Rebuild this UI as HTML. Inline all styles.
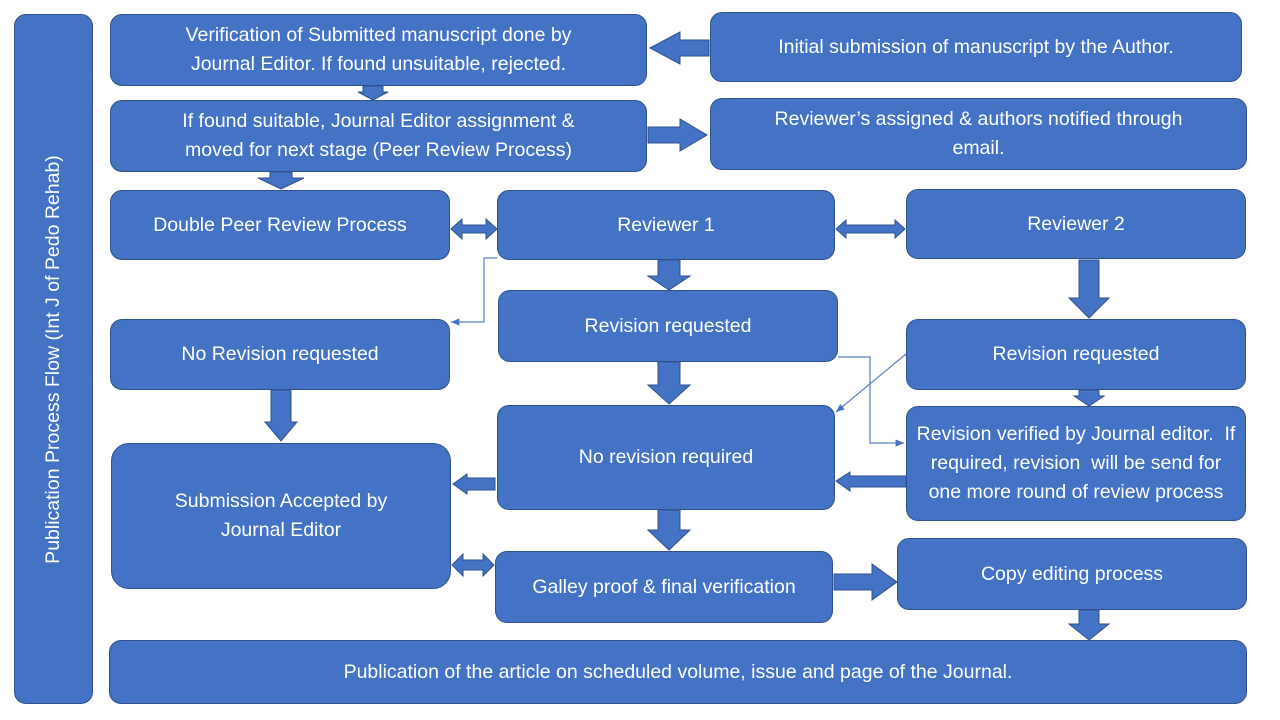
<!DOCTYPE html>
<html><head><meta charset="utf-8"><style>
body{margin:0;width:1280px;height:720px;background:#fff;position:relative;overflow:hidden;font-family:"Liberation Sans",sans-serif}
.b{position:absolute;background:#4472C4;border:1.5px solid #2F528F;border-radius:12px;box-sizing:border-box;color:#fff;font-size:19.5px;display:flex;align-items:center;justify-content:center;text-align:center;line-height:29px;padding:0 8px}
svg{position:absolute;left:0;top:0}
</style></head><body>
<div class="b" style="left:14px;top:14px;width:79px;height:690px"><div style="transform:rotate(-90deg);white-space:nowrap">Publication Process Flow (Int J of Pedo Rehab)</div></div>
<div class="b" style="left:110px;top:14px;width:537px;height:72px">Verification of Submitted manuscript done by<br>Journal Editor. If found unsuitable, rejected.</div>
<div class="b" style="left:710px;top:12px;width:532px;height:70px">Initial submission of manuscript by the Author.</div>
<div class="b" style="left:110px;top:100px;width:537px;height:72px">If found suitable, Journal Editor assignment &amp;<br>moved for next stage (Peer Review Process)</div>
<div class="b" style="left:710px;top:98px;width:537px;height:72px">Reviewer’s assigned &amp; authors notified through<br>email.</div>
<div class="b" style="left:110px;top:190px;width:340px;height:70px">Double Peer Review Process</div>
<div class="b" style="left:497px;top:190px;width:338px;height:70px">Reviewer 1</div>
<div class="b" style="left:906px;top:189px;width:340px;height:70px">Reviewer 2</div>
<div class="b" style="left:110px;top:319px;width:340px;height:71px">No Revision requested</div>
<div class="b" style="left:498px;top:290px;width:340px;height:72px">Revision requested</div>
<div class="b" style="left:906px;top:319px;width:340px;height:71px">Revision requested</div>
<div class="b" style="left:497px;top:405px;width:338px;height:105px">No revision required</div>
<div class="b" style="left:906px;top:406px;width:340px;height:115px">Revision verified by Journal editor.&nbsp; If required, revision&nbsp; will be send for one more round of review process</div>
<div class="b" style="left:111px;top:443px;width:340px;height:146px;border-radius:18px">Submission Accepted by<br>Journal Editor</div>
<div class="b" style="left:495px;top:551px;width:338px;height:72px">Galley proof &amp; final verification</div>
<div class="b" style="left:897px;top:538px;width:350px;height:72px">Copy editing process</div>
<div class="b" style="left:109px;top:640px;width:1138px;height:64px">Publication of the article on scheduled volume, issue and page of the Journal.</div>
<svg width="1280" height="720" fill="#4472C4" stroke="#2F528F" stroke-width="1">
<defs><marker id="m" markerWidth="8" markerHeight="8" refX="7" refY="4" orient="auto"><path d="M0,1 L7,4 L0,7 z" fill="#4472C4" stroke="none"/></marker></defs>
<!-- left arrow B2->B1 -->
<polygon points="650,48 680,32 680,40 709,40 709,56 680,56 680,64"/>
<!-- down B1->B3 -->
<polygon points="363,86 383,86 383,92 388,92 373,100 358,92 363,92"/>
<!-- right B3->B4 -->
<polygon points="648,127 680,127 680,119 707,135 680,151 680,143 648,143"/>
<!-- down B3->B5 -->
<polygon points="270,172 292,172 292,178 304,178 281,189 258,178 270,178"/>
<!-- double B5-B6 -->
<polygon points="451,229 462,219 462,225 486,225 486,219 497,229 486,239 486,233 462,233 462,239"/>
<!-- double B6-B7 -->
<polygon points="836,229 846,220 846,225 895,225 895,220 905,229 895,238 895,233 846,233 846,238"/>
<!-- down B6->B9 -->
<polygon points="658,260 680,260 680,276 690,276 669,290 648,276 658,276"/>
<!-- down B7->B10 -->
<polygon points="1079,260 1099,260 1099,298 1109,298 1089,318 1069,298 1079,298"/>
<!-- down B9->B11 -->
<polygon points="658,362 680,362 680,385 690,385 669,404 648,385 658,385"/>
<!-- down B10->B12 -->
<polygon points="1079,390 1099,390 1099,396 1104,396 1089,406 1074,396 1079,396"/>
<!-- down B8->B13 -->
<polygon points="271,390 291,390 291,422 297,422 281,441 265,422 271,422"/>
<!-- left B11->B13 -->
<polygon points="453,484 467,474 467,478 495,478 495,490 467,490 467,494"/>
<!-- left B12->B11 -->
<polygon points="836,481 850,472 850,476 906,476 906,487 850,487 850,491"/>
<!-- down B11->B14 -->
<polygon points="658,510 680,510 680,530 690,530 669,550 648,530 658,530"/>
<!-- double B13-B14 -->
<polygon points="452,565 463,554 463,560 483,560 483,554 494,565 483,576 483,570 463,570 463,576"/>
<!-- right B14->B15 -->
<polygon points="834,574 872,574 872,564 897,582 872,600 872,590 834,590"/>
<!-- down B15->B16 -->
<polygon points="1079,610 1099,610 1099,624 1109,624 1089,640 1069,624 1079,624"/>
<g fill="none" stroke="#5B7FC0" stroke-width="1.2" marker-end="url(#m)">
<polyline points="497,258 484,258 484,322 451,322"/>
<polyline points="838,357 870,357 870,443 904,443"/>
<polyline points="906,354 836,412"/>
</g>
</svg>
</body></html>
